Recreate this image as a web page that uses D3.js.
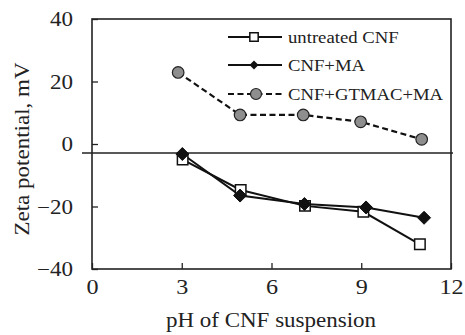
<!DOCTYPE html>
<html>
<head>
<meta charset="utf-8">
<script src="https://cdn.jsdelivr.net/npm/d3@7"></script>
<style>
  body { margin: 0; background: #fff; }
  svg text { font-family: 'Liberation Serif', Tinos, 'Times New Roman', Times, serif !important; fill: #222; }
</style>
</head>
<body>
<div id="chart"></div>
<script>
// values
var untreatedX = [3.03, 4.97, 7.12, 9.07, 10.96];
var untreatedY = [-5.0, -14.7, -19.8, -21.7, -32.1];
var maX = [3.02, 4.95, 7.1, 9.16, 11.1];
var maY = [-3.2, -16.5, -19.2, -20.3, -23.6];
var gtmacX = [2.88, 4.95, 7.06, 8.98, 11.02];
var gtmacY = [22.9, 9.3, 9.3, 7.1, 1.5];
var xTicks = [0, 3, 6, 9, 12];
var yTicks = [-40, -20, 0, 20, 40];
var crossLine = -2.9;
var seriesNames = ["untreated CNF", "CNF+MA", "CNF+GTMAC+MA"];

var W = 465, H = 335;
var margin = {top: 19, right: 14, bottom: 66, left: 92};
var width = W - margin.left - margin.right;
var height = H - margin.top - margin.bottom;
var sx = 1.15; // text in the picture is a bit wide
var serif = "'Liberation Serif', Tinos, 'Times New Roman', Times, serif";
var dash = "6,3.5";

var svg = d3.select("#chart").append("svg")
  .attr("width", W)
  .attr("height", H)
  .attr("font-family", serif);

var g = svg.append("g")
  .attr("transform", "translate(" + margin.left + "," + margin.top + ")");

var x = d3.scaleLinear().domain([0, 12]).range([0, width]);
var y = d3.scaleLinear().domain([-40, 40]).range([height, 0]);

// axes, ticks pointing inward
var xAxis = g.append("g")
  .attr("transform", "translate(0," + height + ")")
  .call(d3.axisBottom(x).tickValues(xTicks).tickSize(-6).tickPadding(0).tickSizeOuter(0));
xAxis.attr("font-family", serif);
xAxis.select(".domain").remove();
xAxis.selectAll("line").attr("stroke", "#222").attr("stroke-width", 1.3);
xAxis.selectAll("text")
  .attr("y", null).attr("dy", null)
  .attr("transform", "translate(0,25) scale(" + sx + ",1)")
  .style("font-size", "21px").style("fill", "#222");

var yAxis = g.append("g")
  .call(d3.axisLeft(y).tickValues(yTicks).tickSize(-6).tickSizeOuter(0));
yAxis.attr("font-family", serif);
yAxis.select(".domain").remove();
yAxis.selectAll("line").attr("stroke", "#222").attr("stroke-width", 1.3);
yAxis.selectAll("text")
  .attr("x", null)
  .attr("dy", "0.33em")
  .attr("transform", "translate(-19,0) scale(" + sx + ",1)")
  .style("font-size", "20px").style("fill", "#222");

// frame
g.append("rect")
  .attr("width", width).attr("height", height)
  .attr("fill", "none").attr("stroke", "#222").attr("stroke-width", 1.6);

// horizontal crossing line
g.append("line")
  .attr("x1", -10).attr("x2", width + 2)
  .attr("y1", y(crossLine)).attr("y2", y(crossLine))
  .attr("stroke", "#222").attr("stroke-width", 1.6);

var line = d3.line().x(function(d) { return x(d[0]); }).y(function(d) { return y(d[1]); });
var zip = function(a, b) { return a.map(function(v, i) { return [v, b[i]]; }); };

var untreated = zip(untreatedX, untreatedY);
var ma = zip(maX, maY);
var gtmac = zip(gtmacX, gtmacY);

g.append("path").datum(gtmac).attr("d", line)
  .attr("fill", "none").attr("stroke", "#111").attr("stroke-width", 2.2)
  .attr("stroke-dasharray", dash);
g.append("path").datum(untreated).attr("d", line)
  .attr("fill", "none").attr("stroke", "#111").attr("stroke-width", 2);
g.append("path").datum(ma).attr("d", line)
  .attr("fill", "none").attr("stroke", "#111").attr("stroke-width", 2);

var square = d3.symbol().type(d3.symbolSquare).size(110);
var diamond = function(r) {
  return "M0," + (-r) + "L" + r + ",0L0," + r + "L" + (-r) + ",0Z";
};

g.selectAll(".sq").data(untreated).enter().append("path")
  .attr("class", "sq")
  .attr("d", square)
  .attr("transform", function(d) { return "translate(" + x(d[0]) + "," + y(d[1]) + ")"; })
  .attr("fill", "#fff").attr("stroke", "#111").attr("stroke-width", 1.5);

g.selectAll(".dm").data(ma).enter().append("path")
  .attr("class", "dm")
  .attr("d", diamond(6.5))
  .attr("transform", function(d) { return "translate(" + x(d[0]) + "," + y(d[1]) + ")"; })
  .attr("fill", "#111").attr("stroke", "#111").attr("stroke-width", 1);

g.selectAll(".ci").data(gtmac).enter().append("circle")
  .attr("class", "ci")
  .attr("cx", function(d) { return x(d[0]); })
  .attr("cy", function(d) { return y(d[1]); })
  .attr("r", 5.8)
  .attr("fill", "#8e8e8e").attr("stroke", "#222").attr("stroke-width", 1.2);

// legend
var legY = [37, 65, 94];
var legend = svg.append("g");
seriesNames.forEach(function(name, i) {
  var row = legend.append("g").attr("transform", "translate(228," + legY[i] + ")");
  row.append("line").attr("x1", 0).attr("x2", 54)
    .attr("stroke", "#111").attr("stroke-width", 2)
    .attr("stroke-dasharray", i == 2 ? dash : null);
  if (i == 0) {
    row.append("path").attr("d", d3.symbol().type(d3.symbolSquare).size(70))
      .attr("transform", "translate(26,0)")
      .attr("fill", "#fff").attr("stroke", "#111").attr("stroke-width", 1.5);
  } else if (i == 1) {
    row.append("path").attr("d", diamond(4.5))
      .attr("transform", "translate(26,0)")
      .attr("fill", "#111");
  } else {
    row.append("circle").attr("cx", 28).attr("r", 5.5)
      .attr("fill", "#8e8e8e").attr("stroke", "#222").attr("stroke-width", 1.2);
  }
  row.append("text")
    .attr("transform", "translate(60,0) scale(1.1,1)")
    .attr("dy", "0.33em")
    .style("font-size", "17px")
    .text(name);
});

// axis titles
svg.append("text")
  .attr("transform", "translate(271,327) scale(" + sx + ",1)")
  .attr("text-anchor", "middle")
  .style("font-size", "20px")
  .text("pH of CNF suspension");

svg.append("text")
  .attr("transform", "translate(29,149) rotate(-90) scale(" + sx + ",1)")
  .attr("text-anchor", "middle")
  .style("font-size", "20px")
  .text("Zeta potential, mV");
</script>
</body>
</html>
